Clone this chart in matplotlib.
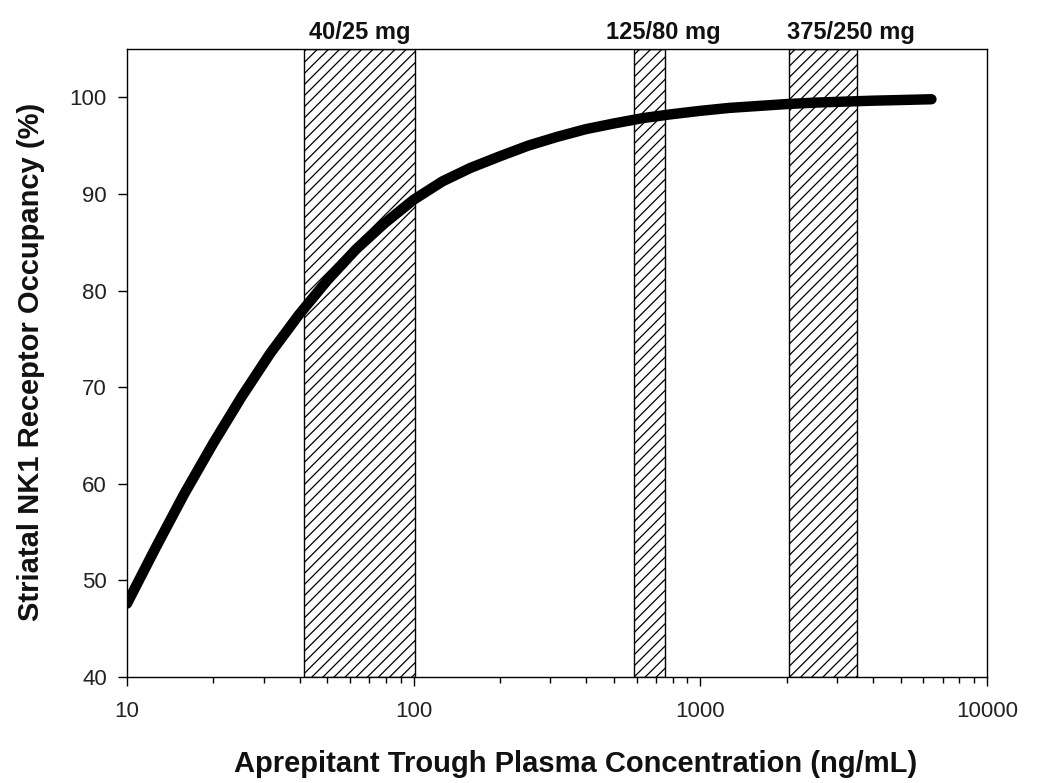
import matplotlib
matplotlib.use("Agg")
import matplotlib.pyplot as plt
from matplotlib.ticker import FixedLocator, NullFormatter

plt.rcParams['font.family'] = ['Liberation Sans', 'DejaVu Sans']
plt.rcParams['hatch.linewidth'] = 0.9

# Curve
conc = [10, 12.6, 15.8, 20, 25.1, 31.6, 39.8, 50.1, 63.1, 79.4, 100, 126, 158, 200,
        251, 316, 398, 501, 631, 794, 1000, 1259, 1585, 1995, 2512, 3162, 3981, 5012, 6400]
occupancy = [47.6, 53.4, 58.9, 64.2, 69.0, 73.5, 77.5, 81.1, 84.3, 87.0, 89.4, 91.3, 92.7,
             93.9, 95.0, 95.9, 96.7, 97.3, 97.85, 98.25, 98.6, 98.9, 99.1, 99.3, 99.45,
             99.55, 99.65, 99.72, 99.8]

# Dose bands (trough concentration ranges)
band_labels = ["40/25 mg", "125/80 mg", "375/250 mg"]
band_lo = [41.6, 587, 2035]
band_hi = [101, 753, 3510]
label_x = [65, 740, 3340]

x_ticks = [10, 100, 1000, 10000]
x_ticklabels = ["10", "100", "1000", "10000"]
y_ticks = [40, 50, 60, 70, 80, 90, 100]

W, H = 1063, 783
fig = plt.figure(figsize=(W / 100, H / 100), dpi=100)
ax = fig.add_axes([127 / W, 1 - 677 / H, (987 - 127) / W, (677 - 49) / H])

ax.set_xscale('log')
ax.set_xlim(10, 10000)
ax.set_ylim(40, 105)

for lo, hi, lab, lx in zip(band_lo, band_hi, band_labels, label_x):
    ax.axvspan(lo, hi, facecolor='white', edgecolor='black', hatch='///',
               linewidth=1.0, zorder=1)
    ax.text(lx, 106.0, lab, ha='center', va='baseline', fontsize=17,
            fontweight='bold', color='#111111', clip_on=False)

ax.plot(conc, occupancy, color='black', linewidth=7.5, solid_capstyle='round',
        solid_joinstyle='round', zorder=3)

ax.xaxis.set_major_locator(FixedLocator(x_ticks))
ax.set_xticklabels(x_ticklabels)
minor = [m * d for d in [10, 100, 1000] for m in range(2, 10)]
ax.xaxis.set_minor_locator(FixedLocator(minor))
ax.xaxis.set_minor_formatter(NullFormatter())
ax.set_yticks(y_ticks)

ax.tick_params(axis='both', which='major', direction='out', length=6.5, width=1.0,
               labelsize=16, color='black', labelcolor='#222222', pad=8)
ax.tick_params(axis='x', which='major', pad=11)
ax.tick_params(axis='x', which='minor', direction='out', length=4.5, width=1.0)
ax.tick_params(top=False, right=False, which='both')

for s in ax.spines.values():
    s.set_linewidth(1.0)
    s.set_color('black')

fig.text(576 / W, 1 - 772 / H, "Aprepitant Trough Plasma Concentration (ng/mL)",
         ha='center', va='baseline', fontsize=21, fontweight='bold', color='#111111')
fig.text(31 / W, 1 - 362 / H, "Striatal NK1 Receptor Occupancy (%)",
         ha='center', va='center', rotation=90, fontsize=21, fontweight='bold',
         color='#111111')

fig.savefig("out.png", dpi=100, facecolor='white')
